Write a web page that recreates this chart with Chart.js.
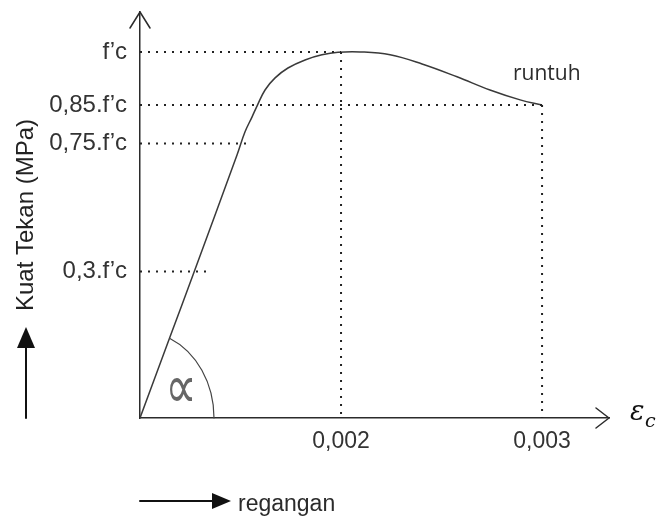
<!DOCTYPE html>
<html>
<head>
<meta charset="utf-8">
<script src="https://cdn.jsdelivr.net/npm/chart.js@4"></script>
<style>
  html, body { margin: 0; padding: 0; background: #fff; }
  #wrap { width: 657px; height: 519px; position: relative; }
</style>
</head>
<body>
<div id="wrap"><canvas id="c" width="657" height="519"></canvas></div>
<script>
// Schematic axis units (the diagram is not drawn to scale)
const xTickPos = [1, 2];
const xTickLabels = ['0,002', '0,003'];
const yTickPos = [0.40, 0.75, 0.855, 1.0];
const yTickLabels = ['0,3.f’c', '0,75.f’c', '0,85.f’c', 'f’c'];

// Stress-strain curve
const curveX = [0, 0.149, 0.264, 0.483, 0.522, 0.557, 0.582, 0.622, 0.672, 0.736, 0.821, 0.905, 0.985, 1.095, 1.244, 1.403, 1.577, 1.741, 1.891, 2.0];
const curveY = [0, 0.221, 0.391, 0.719, 0.781, 0.822, 0.852, 0.896, 0.929, 0.956, 0.978, 0.992, 0.999, 1.0, 0.992, 0.967, 0.932, 0.896, 0.869, 0.855];

// Dotted guide lines
const hGuideLevel = [0.40, 0.75, 0.855, 1.0];
const hGuideEnd = [0.333, 0.532, 2.0, 1.0];
const vGuideX = [1, 2];
const vGuideTop = [1.0, 0.855];

const xMax = 2.333;
const yMax = 1.109;
const ink = '#2b2b2b';

const datasets = [];
hGuideLevel.forEach((lv, i) => {
  datasets.push({
    data: [{x: 0, y: lv}, {x: hGuideEnd[i], y: lv}],
    borderColor: '#222', borderWidth: 2, borderDash: [2, 6],
    pointRadius: 0, fill: false, tension: 0
  });
});
vGuideX.forEach((gx, i) => {
  datasets.push({
    data: [{x: gx, y: vGuideTop[i]}, {x: gx, y: 0}],
    borderColor: '#222', borderWidth: 2, borderDash: [2, 6],
    pointRadius: 0, fill: false, tension: 0
  });
});
datasets.push({
  data: curveX.map((v, i) => ({x: v, y: curveY[i]})),
  borderColor: '#3a3a3a', borderWidth: 1.5, pointRadius: 0, fill: false,
  tension: 0.4
});

const decor = {
  id: 'decor',
  afterDraw(chart) {
    const ctx = chart.ctx;
    const xs = chart.scales.x, ys = chart.scales.y;
    const ca = chart.chartArea;
    const ox = xs.getPixelForValue(0), oy = ys.getPixelForValue(0);
    ctx.save();
    ctx.strokeStyle = ink; ctx.fillStyle = ink;
    ctx.lineWidth = 1.5; ctx.lineCap = 'round'; ctx.lineJoin = 'round';
    // y axis open arrow
    ctx.beginPath();
    ctx.moveTo(ox - 10, ca.top + 16); ctx.lineTo(ox, ca.top); ctx.lineTo(ox + 10, ca.top + 16);
    ctx.stroke();
    // x axis open arrow
    ctx.beginPath();
    ctx.moveTo(ca.right - 13, oy - 10); ctx.lineTo(ca.right, oy); ctx.lineTo(ca.right - 13, oy + 10);
    ctx.stroke();
    // alpha angle arc
    const p1x = xs.getPixelForValue(curveX[1]), p1y = ys.getPixelForValue(curveY[1]);
    const th = Math.atan2(oy - p1y, p1x - ox);
    const rx = 74, ry = 87;
    const t = Math.atan2(Math.sin(th) / ry, Math.cos(th) / rx);
    ctx.lineWidth = 1.2;
    ctx.strokeStyle = '#444';
    ctx.beginPath();
    ctx.ellipse(ox, oy, rx, ry, 0, -t, 0);
    ctx.stroke();
    // alpha symbol
    ctx.save();
    ctx.fillStyle = '#666';
    ctx.translate(ox + 41, oy - 26);
    ctx.scale(1, 1.4);
    ctx.font = '44px "DejaVu Sans"';
    ctx.textAlign = 'center'; ctx.textBaseline = 'middle';
    ctx.fillText('∝', 0, 0);
    ctx.restore();
    // runtuh
    ctx.fillStyle = ink;
    ctx.font = '21px "Open Sans"';
    ctx.textAlign = 'left'; ctx.textBaseline = 'alphabetic';
    ctx.fillText('runtuh', 513, 80);
    // regangan arrow + text
    ctx.strokeStyle = '#111'; ctx.fillStyle = '#111'; ctx.lineWidth = 2;
    ctx.beginPath(); ctx.moveTo(140, 501); ctx.lineTo(216, 501); ctx.stroke();
    ctx.beginPath(); ctx.moveTo(231, 501); ctx.lineTo(212, 493); ctx.lineTo(212, 509); ctx.closePath(); ctx.fill();
    ctx.fillStyle = ink;
    ctx.font = '23px "Liberation Sans"';
    ctx.fillText('regangan', 238, 511);
    // y title arrow
    ctx.strokeStyle = '#111'; ctx.fillStyle = '#111';
    ctx.beginPath(); ctx.moveTo(26, 418); ctx.lineTo(26, 343); ctx.stroke();
    ctx.beginPath(); ctx.moveTo(26, 327); ctx.lineTo(17, 348); ctx.lineTo(35, 348); ctx.closePath(); ctx.fill();
    // epsilon_c
    ctx.fillStyle = '#111';
    ctx.font = 'italic 27px "DejaVu Serif"';
    ctx.fillText('ε', 630, 420);
    ctx.font = 'italic 19px "DejaVu Serif"';
    ctx.fillText('c', 645, 427);
    ctx.restore();
  }
};

new Chart(document.getElementById('c'), {
  type: 'line',
  data: { datasets },
  options: {
    responsive: false,
    animation: false,
    events: [],
    layout: { padding: { top: 12, right: 48, left: 0, bottom: 0 } },
    plugins: { legend: { display: false }, tooltip: { enabled: false } },
    scales: {
      x: {
        type: 'linear', min: 0, max: xMax,
        afterFit(s) { s.height = 101; s.paddingLeft = 0; s.paddingRight = 0; },
        afterBuildTicks(s) { s.ticks = xTickPos.map(v => ({ value: v })); },
        grid: { display: false, drawTicks: false },
        border: { display: true, color: ink, width: 1.5 },
        ticks: {
          padding: 10, color: '#333', autoSkip: false, maxRotation: 0,
          font: { family: 'Liberation Sans', size: 23 },
          callback: (v, i) => xTickLabels[i]
        }
      },
      y: {
        type: 'linear', min: 0, max: yMax,
        afterFit(s) { s.width = 140; s.paddingTop = 0; s.paddingBottom = 0; },
        afterBuildTicks(s) { s.ticks = yTickPos.map(v => ({ value: v })); },
        grid: { display: false, drawTicks: false },
        border: { display: true, color: ink, width: 1.5 },
        title: {
          display: true, text: 'Kuat Tekan (MPa)', color: '#222',
          font: { family: 'Liberation Sans', size: 24 },
          padding: { top: 12, bottom: 0 }
        },
        ticks: {
          padding: 13, color: '#333', autoSkip: false,
          font: { family: 'Liberation Sans', size: 24 },
          callback: (v, i) => yTickLabels[i]
        }
      }
    }
  },
  plugins: [decor]
});
</script>
</body>
</html>
